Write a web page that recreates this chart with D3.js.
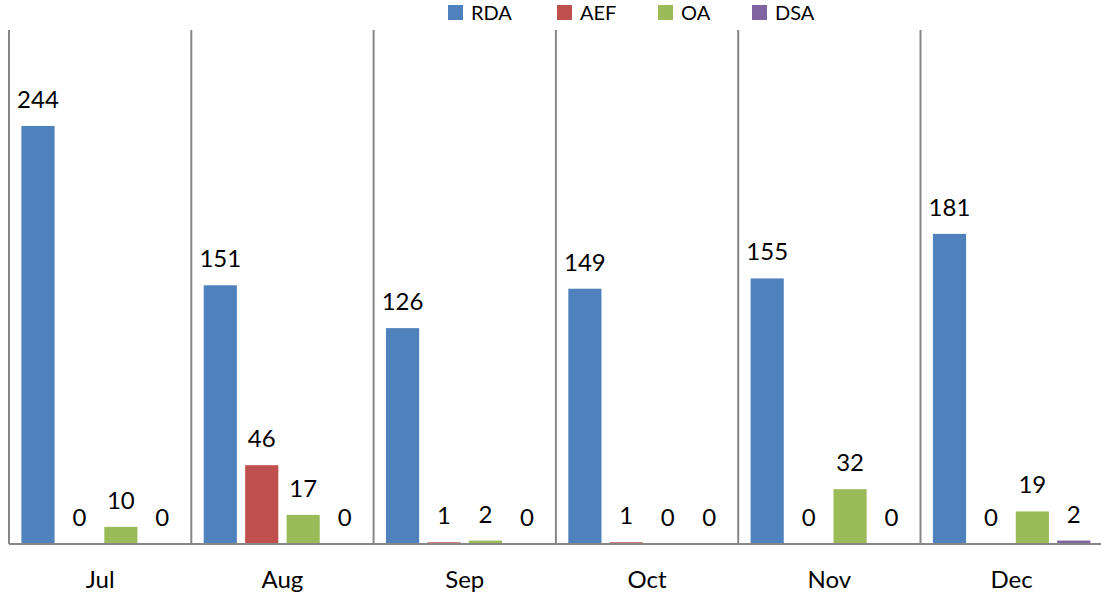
<!DOCTYPE html>
<html>
<head>
<meta charset="utf-8">
<script src="https://cdn.jsdelivr.net/npm/d3@7"></script>
<style>
  body { margin: 0; background: #fff; }
  text { font-family: Lato, "Open Sans", sans-serif; fill: #000; }
</style>
</head>
<body>
<svg id="chart" width="1101" height="596"></svg>
<script>
const months = ['Jul', 'Aug', 'Sep', 'Oct', 'Nov', 'Dec'];
const seriesNames = ['RDA', 'AEF', 'OA', 'DSA'];
const rda = [244, 151, 126, 149, 155, 181];
const aef = [0, 46, 1, 1, 0, 0];
const oa = [10, 17, 2, 0, 32, 19];
const dsa = [0, 0, 0, 0, 0, 2];
const colors = ['#4f81bd', '#c0504d', '#9bbb59', '#8064a2'];

const values = [rda, aef, oa, dsa];
const rows = months.map((m, i) => ({ month: m, vals: values.map(s => s[i]) }));

const svg = d3.select('#chart');
const left = 9, step = 182.3, base = 544, yTop = 30;

const x = d3.scaleBand()
  .domain(months)
  .range([left, left + step * months.length])
  .paddingInner(0)
  .paddingOuter(0);

const xs = d3.scaleBand()
  .domain(seriesNames)
  .range([12, step - 12])
  .paddingInner(0.2)
  .paddingOuter(0.01);

const y = d3.scaleLinear().domain([0, 300]).range([base, yTop]);

// category separators
svg.append('g').selectAll('line')
  .data(months)
  .enter()
  .append('line')
  .attr('x1', d => x(d)).attr('x2', d => x(d))
  .attr('y1', yTop).attr('y2', base)
  .attr('stroke', '#868686').attr('stroke-width', 2);

const group = svg.selectAll('g.cat')
  .data(rows)
  .enter()
  .append('g')
  .attr('class', 'cat')
  .attr('transform', d => `translate(${x(d.month)},0)`);

group.selectAll('rect')
  .data(d => d.vals.map((v, j) => ({ name: seriesNames[j], v, c: colors[j] })))
  .enter()
  .append('rect')
  .attr('x', d => xs(d.name))
  .attr('y', d => y(d.v))
  .attr('width', xs.bandwidth())
  .attr('height', d => base - y(d.v))
  .attr('fill', d => d.c);

group.selectAll('text')
  .data(d => d.vals.map((v, j) => ({ name: seriesNames[j], v })))
  .enter()
  .append('text')
  .attr('x', d => xs(d.name) + xs.bandwidth() / 2)
  .attr('y', d => y(d.v) - 18)
  .attr('text-anchor', 'middle')
  .attr('font-size', 24)
  .text(d => d.v);

// baseline
svg.append('line')
  .attr('x1', left).attr('x2', 1101)
  .attr('y1', base).attr('y2', base)
  .attr('stroke', '#868686').attr('stroke-width', 2);

// month labels
svg.append('g').selectAll('text')
  .data(months)
  .enter()
  .append('text')
  .attr('x', d => x(d) + x.bandwidth() / 2)
  .attr('y', 588)
  .attr('text-anchor', 'middle')
  .attr('font-size', 24)
  .text(d => d);

// legend
const legendX = [448, 557, 658, 752];
const legend = svg.append('g').selectAll('g')
  .data(seriesNames)
  .enter()
  .append('g')
  .attr('transform', (d, i) => `translate(${legendX[i]}, 5)`);

legend.append('rect')
  .attr('width', 15).attr('height', 15)
  .attr('fill', (d, i) => colors[i]);

legend.append('text')
  .attr('x', 23).attr('y', 15)
  .attr('font-size', 20)
  .text(d => d);
</script>
</body>
</html>
